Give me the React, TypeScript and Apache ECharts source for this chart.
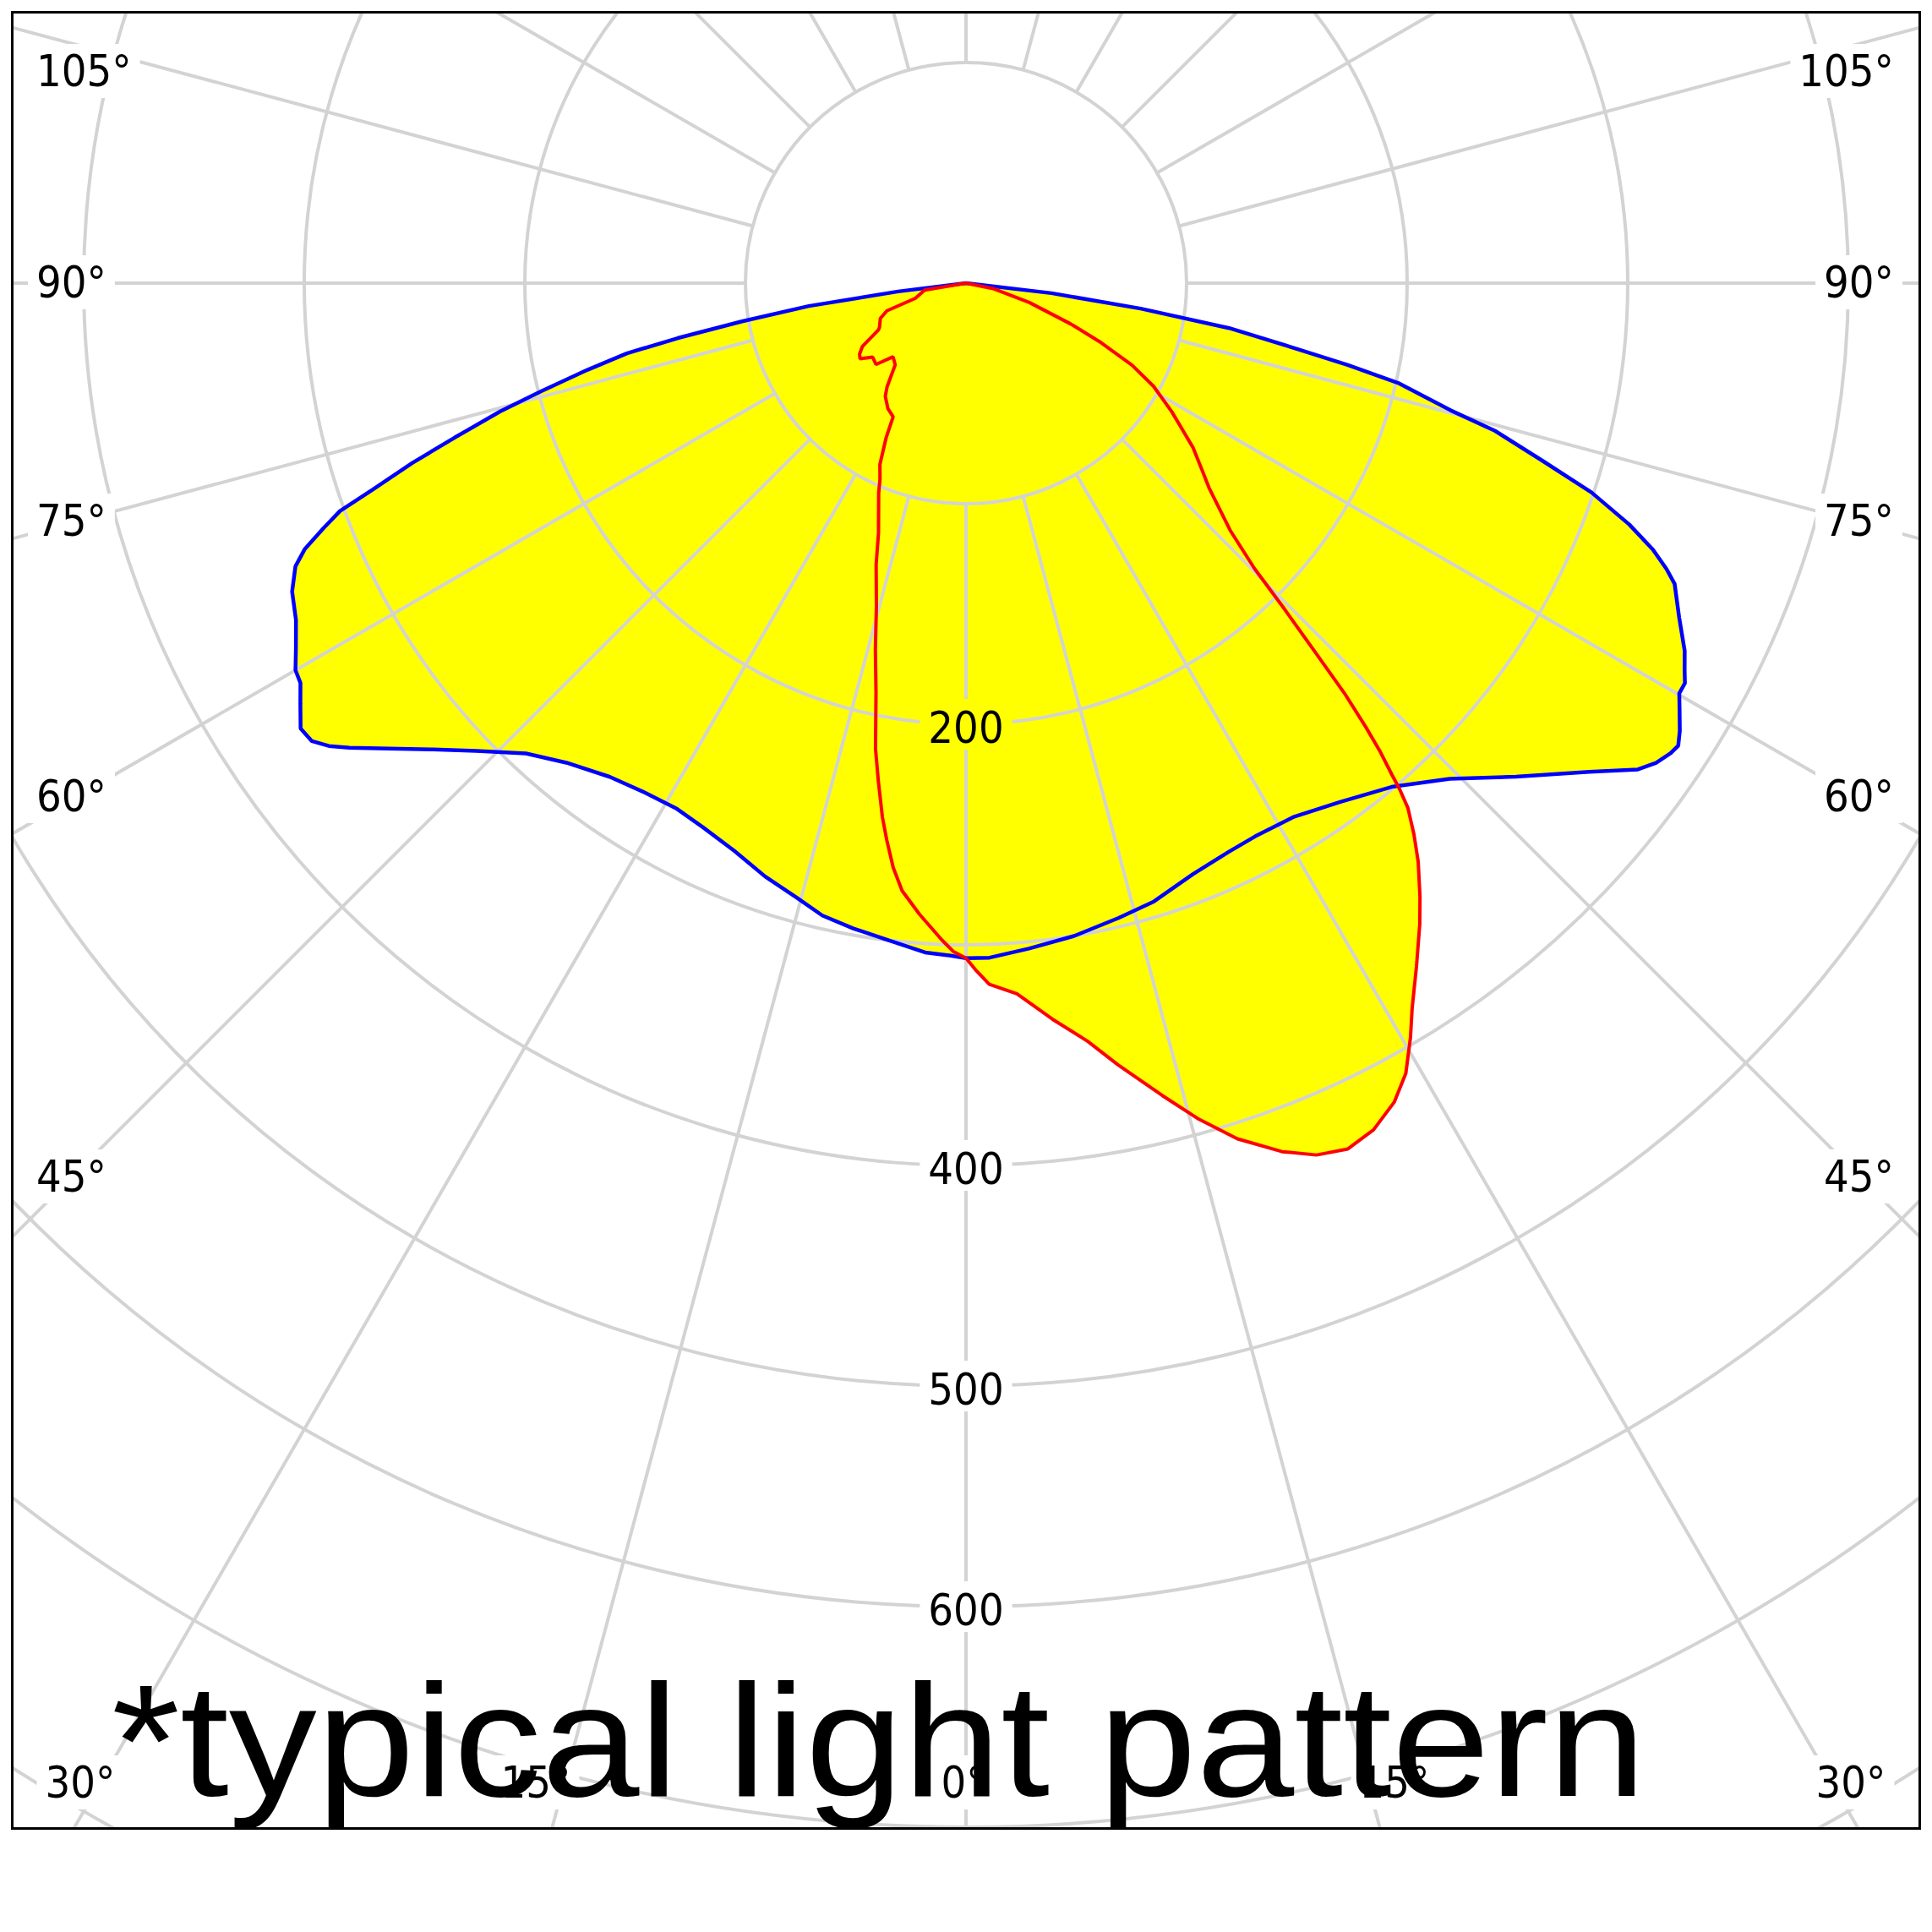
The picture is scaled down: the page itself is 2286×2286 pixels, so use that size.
import React, { useEffect, useRef } from "react";
import * as echarts from "echarts";

// ---- Data: luminous intensity (cd) ----
// Each entry: [gamma (degrees from nadir), intensity (cd)]
// Blue plane, left half (gamma 90 -> 0)
const BLUE_LEFT: [number, number][] = [
  [90, 0], [83, 31], [81.7, 72], [80.3, 103], [79.2, 133], [78.3, 157], [77.1, 176],
  [75.7, 199], [74.6, 219], [73.2, 242], [72.0, 264], [70.8, 285], [70.0, 302],
  [69.1, 312], [68.1, 323], [67.1, 330], [65.4, 336], [63.3, 340], [61.4, 346],
  [60.0, 351], [59.0, 352], [57.7, 357], [56.2, 363], [55.0, 362], [54.0, 357],
  [53.0, 350], [51.1, 336], [48.8, 321], [46.3, 307], [43.1, 292], [39.8, 283],
  [35.8, 276], [32.2, 273], [28.8, 272], [25.8, 274], [22.2, 278], [18.7, 284],
  [15.4, 289], [12.8, 294], [9.9, 297], [6.7, 300], [3.5, 304], [1.3, 305], [0, 306],
];
// Blue plane, right half (gamma 0 -> 90)
const BLUE_RIGHT: [number, number][] = [
  [0, 306], [2.0, 306], [5.4, 303], [9.4, 300], [13.5, 296], [16.9, 293], [21.0, 287],
  [24.8, 284], [27.6, 283], [31.6, 284], [35.8, 290], [40.2, 299], [44.3, 314],
  [48.1, 335], [51.9, 359], [54.1, 376], [55.2, 381], [56.3, 384], [57.0, 385],
  [57.9, 382], [59.1, 377], [60.1, 373], [60.9, 373], [61.7, 370], [62.9, 366],
  [64.9, 357], [67.0, 349], [67.8, 343], [68.8, 334], [70.0, 320], [71.5, 299],
  [72.9, 273], [74.4, 249], [75.3, 227], [77.0, 201], [77.9, 177], [78.8, 152],
  [80.3, 121], [81.7, 80], [83.3, 39], [90, 0],
];
// Red plane, left half (gamma 90 -> 0)
const RED_LEFT: [number, number][] = [
  [90, 0], [80.5, 19], [73.3, 24], [70.7, 38], [67.6, 42], [63.0, 44], [61.9, 45],
  [58.6, 55], [56.3, 58], [54.5, 59], [51.6, 54], [47.9, 55], [44.7, 47], [40.9, 49],
  [37.3, 59], [35.5, 63], [31.9, 67], [28.6, 69], [27.3, 79], [25.4, 91], [23.7, 97],
  [22.6, 103], [19.3, 120], [17.7, 134], [15.5, 152], [13.9, 171], [12.4, 190],
  [11.0, 215], [10.0, 229], [8.9, 245], [8.1, 255], [7.1, 267], [6.0, 277], [4.2, 287],
  [2.1, 298], [1.1, 303], [0, 306],
];
// Red plane, right half (gamma 0 -> 90)
const RED_RIGHT: [number, number][] = [
  [0, 306], [0.9, 312], [1.9, 318], [4.1, 323], [6.7, 336], [9.1, 348], [11.0, 361],
  [13.6, 379], [15.5, 393], [17.6, 407], [20.0, 419], [21.9, 426], [23.8, 429],
  [25.7, 426], [27.6, 419], [29.1, 410], [30.5, 397], [31.6, 386], [33.4, 371],
  [35.3, 356], [36.5, 346], [38.0, 333], [39.1, 322], [40.1, 311], [40.6, 302],
  [40.9, 295], [41.5, 283], [42.0, 271], [42.7, 253], [43.5, 228], [44.4, 205],
  [45.3, 184], [46.9, 164], [49.9, 144], [51.5, 137], [54.1, 127], [58.0, 110],
  [61.2, 97], [63.7, 84], [66.2, 67], [68.7, 51], [73.0, 30], [78.4, 13], [90, 0],
];

const RADIAL_LABELS = [200, 400, 500, 600];
const SIDE_ANGLE_LABELS = ["105°", "90°", "75°", "60°", "45°"];
const BOTTOM_ANGLE_LABELS = ["30°", "15°", "0°", "15°", "30°"];
const NOTE_TEXT = "*typical light pattern";

// ---- Layout (pixels) ----
const W = 2254;
const H = 2146;
const CX = 1127;
const CY = 319;
const PX_PER_CD = 2.61;
const R_MAX_CD = 900;
const R_MIN_SPOKE_CD = 100;
const SIDE_Y = [68, 318, 600, 926, 1376];
const LEFT_X = 17;
const RIGHT_X = 2235;
const BOTTOM_X = [79, 618, 1124, 1634, 2174];
const BOTTOM_Y = 2093;

const LABEL_FONT = '"DejaVu Sans Condensed", "DejaVu Sans", sans-serif';
const GRID = "#d3d3d3";
const FILL = "#ffff00";

// left half: angle = gamma (clockwise from nadir toward the left), right half: 360 - gamma
function toPolar(left: [number, number][], right: [number, number][]): [number, number][] {
  const pts: [number, number][] = [];
  left.forEach(([g, v]) => pts.push([v, g]));
  right.forEach(([g, v]) => pts.push([v, 360 - g]));
  return pts;
}

const BLUE = toPolar(BLUE_LEFT, BLUE_RIGHT);
const RED = toPolar(RED_LEFT, RED_RIGHT);

function buildOption(): any {
  const rOut = R_MAX_CD * PX_PER_CD;
  const rIn = R_MIN_SPOKE_CD * PX_PER_CD;
  const labelStyle = {
    fill: "#000",
    fontSize: 52,
    fontFamily: LABEL_FONT,
    backgroundColor: "#fff",
    padding: [6, 10],
    verticalAlign: "middle",
  };
  const graphics: any[] = [];
  SIDE_ANGLE_LABELS.forEach((t, i) => {
    graphics.push({ type: "text", x: LEFT_X, y: SIDE_Y[i], z: 10, style: { ...labelStyle, text: t, align: "left" } });
    graphics.push({ type: "text", x: RIGHT_X, y: SIDE_Y[i], z: 10, style: { ...labelStyle, text: t, align: "right" } });
  });
  BOTTOM_ANGLE_LABELS.forEach((t, i) => {
    graphics.push({ type: "text", x: BOTTOM_X[i], y: BOTTOM_Y, z: 10, style: { ...labelStyle, text: t, align: "center" } });
  });
  graphics.push({
    type: "text",
    x: 116,
    y: 2043,
    scaleX: 1.095,
    z: 20,
    style: {
      text: NOTE_TEXT,
      fill: "#000",
      fontSize: 190,
      fontFamily: '"Liberation Sans", Arial, sans-serif',
      align: "left",
      verticalAlign: "middle",
    },
  });

  const richBase = { fontSize: 52, fontFamily: LABEL_FONT, color: "#000", padding: [8, 10, 0, 10] };

  return {
    animation: false,
    backgroundColor: "#fff",
    polar: [
      { center: [CX, CY], radius: [0, rOut] },
      { center: [CX, CY], radius: [rIn, rOut] },
    ],
    angleAxis: [
      { polarIndex: 0, type: "value", min: 0, max: 360, startAngle: -90, clockwise: true, show: false },
      {
        polarIndex: 1,
        type: "value",
        min: 0,
        max: 360,
        interval: 15,
        startAngle: -90,
        clockwise: true,
        z: 3,
        axisLine: { show: false },
        axisTick: { show: false },
        axisLabel: { show: false },
        splitLine: { show: true, lineStyle: { color: GRID, width: 4 } },
      },
    ],
    radiusAxis: [
      {
        polarIndex: 0,
        type: "value",
        min: 0,
        max: R_MAX_CD,
        interval: 100,
        z: 3,
        axisLine: { show: false },
        axisTick: { show: false },
        axisLabel: { show: false },
        splitLine: { show: true, lineStyle: { color: GRID, width: 4 } },
      },
      {
        polarIndex: 1,
        type: "value",
        min: R_MIN_SPOKE_CD,
        max: R_MAX_CD,
        interval: 100,
        z: 8,
        axisLine: { show: false },
        axisTick: { show: false },
        splitLine: { show: false },
        axisLabel: {
          show: true,
          margin: 0,
          align: "center",
          verticalAlign: "middle",
          fontSize: 52,
          fontFamily: LABEL_FONT,
          color: "#000",
          formatter: (v: number) => {
            if (RADIAL_LABELS.indexOf(v) < 0) return "";
            return v === RADIAL_LABELS[0] ? "{y|" + v + "}" : "{w|" + v + "}";
          },
          rich: {
            w: { ...richBase, backgroundColor: "#fff" },
            y: { ...richBase, backgroundColor: FILL },
          },
        },
      },
    ],
    series: [
      {
        type: "custom",
        coordinateSystem: "polar",
        polarIndex: 0,
        z: 1,
        silent: true,
        data: [[0, 0]],
        renderItem: (_params: any, api: any) => ({
          type: "group",
          children: [BLUE, RED].map((pts) => ({
            type: "polygon",
            shape: { points: pts.map((p) => api.coord(p)) },
            style: { fill: FILL, stroke: "none" },
          })),
        }),
      },
      {
        type: "line",
        coordinateSystem: "polar",
        polarIndex: 0,
        data: BLUE,
        symbol: "none",
        showSymbol: false,
        z: 5,
        lineStyle: { color: "#0000ff", width: 4.5 },
      },
      {
        type: "line",
        coordinateSystem: "polar",
        polarIndex: 0,
        data: RED,
        symbol: "none",
        showSymbol: false,
        z: 5,
        lineStyle: { color: "#ff0000", width: 4 },
      },
    ],
    graphic: graphics,
  };
}

export default function App() {
  const ref = useRef<HTMLDivElement>(null);
  useEffect(() => {
    if (!ref.current) return;
    const chart = echarts.init(ref.current, null, { renderer: "svg" });
    chart.setOption(buildOption());
    return () => chart.dispose();
  }, []);
  return (
    <div
      style={{
        position: "absolute",
        left: 13,
        top: 13,
        width: W,
        height: H,
        border: "3px solid #000",
        background: "#fff",
        overflow: "hidden",
      }}
    >
      <div ref={ref} style={{ width: W, height: H }} />
    </div>
  );
}
